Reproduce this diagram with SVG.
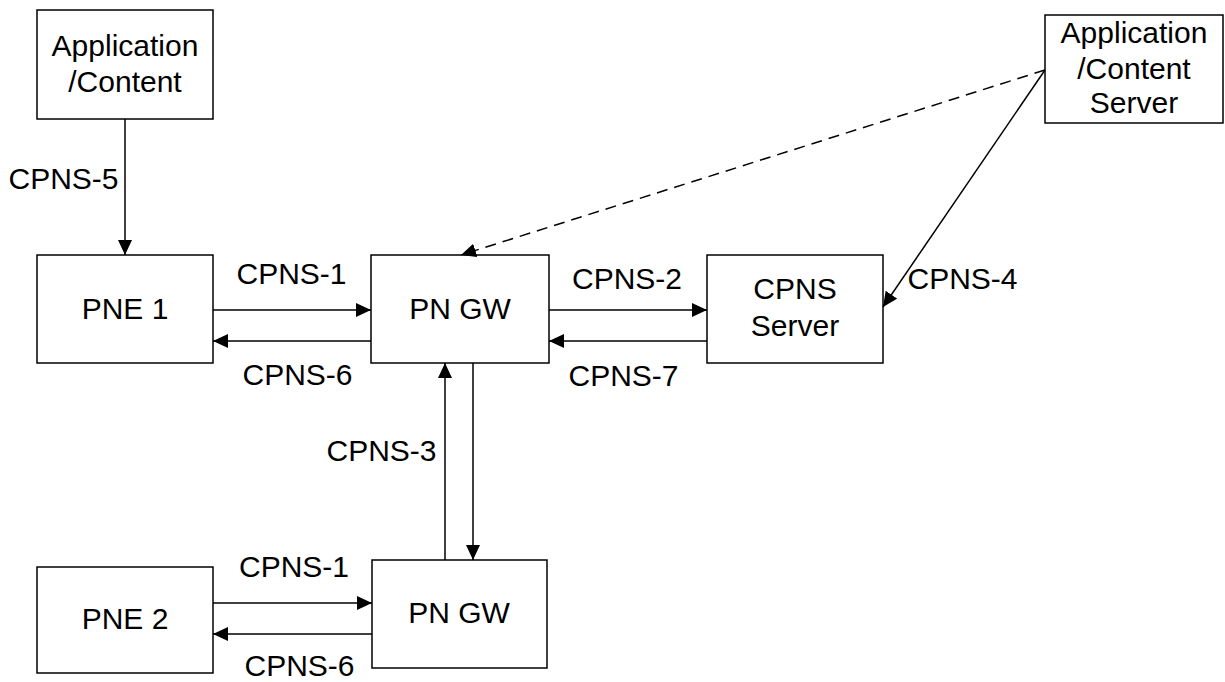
<svg xmlns="http://www.w3.org/2000/svg" width="1225" height="682" viewBox="0 0 1225 682">
<style>
.box{fill:#fff;stroke:#000;stroke-width:1.5}
.t{font-family:"Liberation Sans",Arial,sans-serif;font-size:30px;fill:#000;text-anchor:middle}
.c{fill:none;stroke:#000;stroke-width:1.5}
.d{stroke-dasharray:11,7}
</style>
<defs>
<marker id="ah" markerUnits="userSpaceOnUse" markerWidth="16" markerHeight="16" refX="15" refY="7" orient="auto">
<path d="M0,0 L15,7 L0,14 z" fill="#000"/>
</marker>
</defs>
<rect width="1225" height="682" fill="#fff"/>
<g id="app-content">
<rect class="box" x="37" y="10" width="176" height="109"/>
<text class="t" x="125" y="56">Application</text>
<text class="t" x="125" y="92">/Content</text>
</g>
<g id="pne1">
<rect class="box" x="37" y="255" width="176" height="108"/>
<text class="t" x="125" y="319">PNE 1</text>
</g>
<g id="pngw1">
<rect class="box" x="371" y="255" width="178" height="108"/>
<text class="t" x="460" y="319">PN GW</text>
</g>
<g id="cpns-server">
<rect class="box" x="707" y="255" width="176" height="108"/>
<text class="t" x="795" y="299">CPNS</text>
<text class="t" x="795" y="336">Server</text>
</g>
<g id="app-content-server">
<rect class="box" x="1045" y="15" width="178" height="108"/>
<text class="t" x="1134" y="43">Application</text>
<text class="t" x="1134" y="79">/Content</text>
<text class="t" x="1134" y="113">Server</text>
</g>
<g id="pne2">
<rect class="box" x="37" y="567" width="176" height="106"/>
<text class="t" x="125" y="629">PNE 2</text>
</g>
<g id="pngw2">
<rect class="box" x="372" y="560" width="175" height="108"/>
<text class="t" x="459" y="623">PN GW</text>
</g>
<g id="connectors">
<line class="c" x1="125" y1="119" x2="125" y2="255" marker-end="url(#ah)"/>
<line class="c" x1="213" y1="310" x2="371" y2="310" marker-end="url(#ah)"/>
<line class="c" x1="371" y1="341" x2="213" y2="341" marker-end="url(#ah)"/>
<line class="c" x1="549" y1="310" x2="707" y2="310" marker-end="url(#ah)"/>
<line class="c" x1="707" y1="341" x2="549" y2="341" marker-end="url(#ah)"/>
<line class="c d" x1="1045" y1="70" x2="461" y2="255" marker-end="url(#ah)"/>
<line class="c" x1="1045" y1="70" x2="883" y2="307" marker-end="url(#ah)"/>
<line class="c" x1="445" y1="560" x2="445" y2="363" marker-end="url(#ah)"/>
<line class="c" x1="473" y1="363" x2="473" y2="560" marker-end="url(#ah)"/>
<line class="c" x1="213" y1="603" x2="372" y2="603" marker-end="url(#ah)"/>
<line class="c" x1="372" y1="634" x2="213" y2="634" marker-end="url(#ah)"/>
<text class="t" x="63.5" y="189">CPNS-5</text>
<text class="t" x="291.5" y="284">CPNS-1</text>
<text class="t" x="297.5" y="385">CPNS-6</text>
<text class="t" x="627" y="289">CPNS-2</text>
<text class="t" x="623.5" y="386">CPNS-7</text>
<text class="t" x="962.5" y="289">CPNS-4</text>
<text class="t" x="381.5" y="461">CPNS-3</text>
<text class="t" x="294" y="577">CPNS-1</text>
<text class="t" x="299.5" y="676">CPNS-6</text>
</g>
</svg>
